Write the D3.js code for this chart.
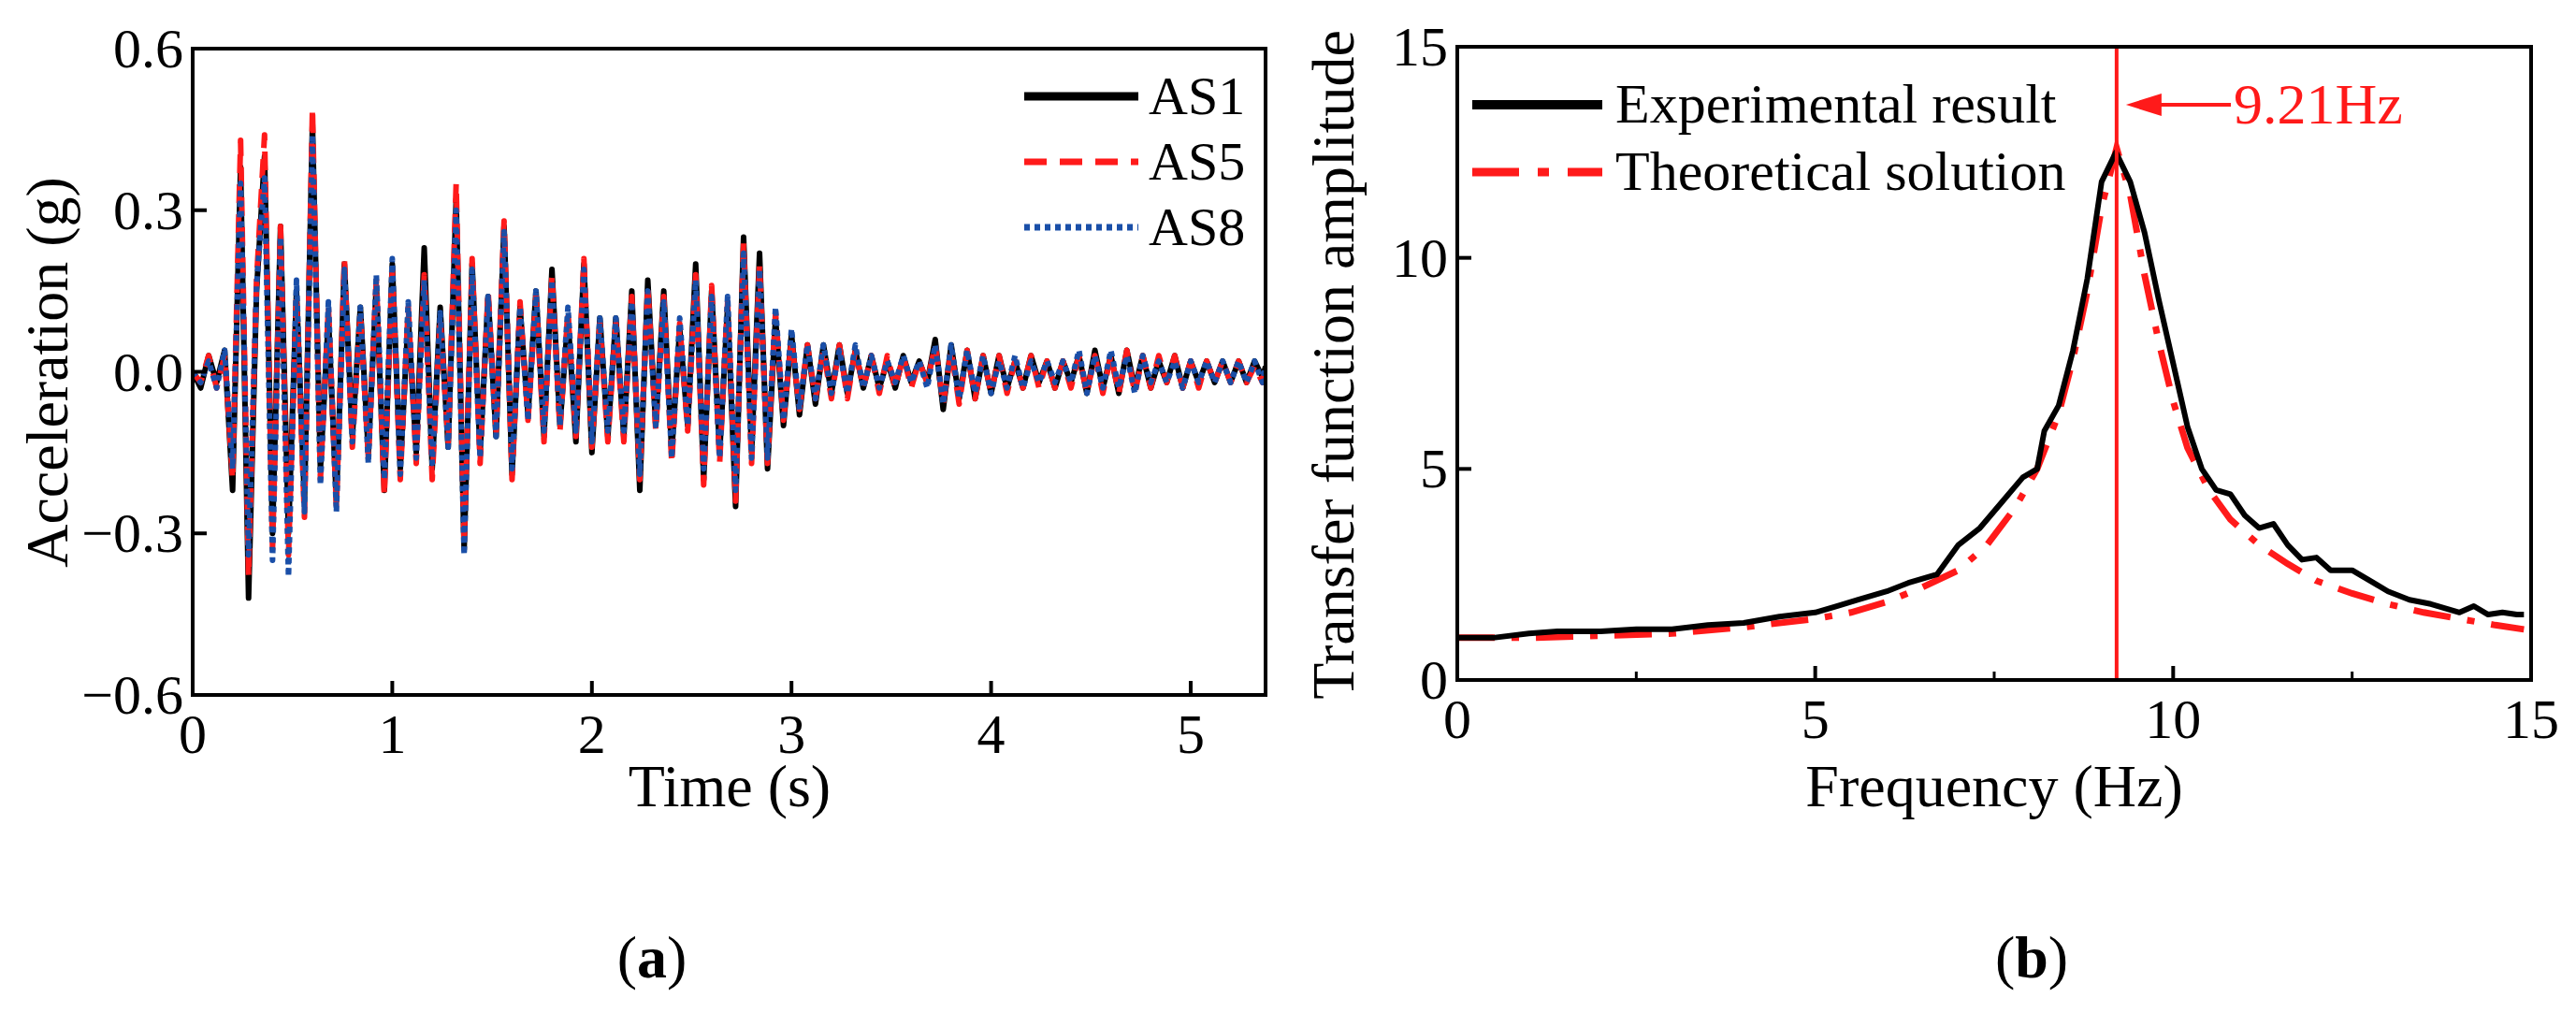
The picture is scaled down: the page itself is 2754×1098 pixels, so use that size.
<!DOCTYPE html>
<html><head><meta charset="utf-8">
<script src="https://cdn.jsdelivr.net/npm/d3@7"></script>
<style>body{margin:0;background:#fff}</style>
</head><body>
<svg id="c" width="2754" height="1098" font-family="Liberation Serif, DejaVu Serif, serif"></svg>
<script>
// ---- Panel (a) data: turning points, time step 0.04 s ----
const timeA = d3.range(0, 135).map(i => +(i*0.04).toFixed(2)).concat([5.375]);
const AS1 = [0,-0.03,0.03,-0.02,0.04,-0.22,0.38,-0.42,0.15,0.40,-0.30,0.27,-0.30,0.15,-0.24,0.46,
 -0.18,0.10,-0.24,0.20,-0.12,0.12,-0.15,0.16,-0.22,0.20,-0.18,0.10,-0.15,0.23,-0.18,0.12,-0.14,0.32,
 -0.33,0.20,-0.15,0.14,-0.12,0.27,-0.19,0.12,-0.08,0.15,-0.12,0.19,-0.10,0.10,-0.13,0.20,-0.15,
 0.10,-0.12,0.10,-0.12,0.15,-0.22,0.17,-0.10,0.15,-0.15,0.08,-0.10,0.20,-0.20,0.15,-0.15,
 0.12,-0.25,0.25,-0.15,0.22,-0.18,0.10,-0.10,0.07,-0.08,0.05,-0.06,0.05,-0.04,0.05,-0.04,
 0.04,-0.03,0.03,-0.03,0.02,-0.03,0.03,-0.02,0.02,-0.02,0.06,-0.07,0.05,-0.05,0.04,-0.05,
 0.03,-0.04,0.03,-0.03,0.02,-0.03,0.03,-0.02,0.02,-0.03,0.02,-0.02,0.03,-0.04,0.04,-0.03,
 0.03,-0.04,0.04,-0.03,0.03,-0.03,0.02,-0.02,0.03,-0.03,0.02,-0.02,0.02,-0.02,0.02,-0.02,
 0.02,-0.02,0.02,-0.01,0.01,-0.01];
const AS5 = [0,-0.02,0.03,-0.03,0.03,-0.20,0.43,-0.38,0.17,0.44,-0.33,0.27,-0.34,0.14,-0.27,0.49,
 -0.20,0.12,-0.25,0.21,-0.14,0.11,-0.16,0.17,-0.23,0.19,-0.20,0.12,-0.17,0.18,-0.20,0.10,-0.13,0.35,
 -0.32,0.21,-0.17,0.15,-0.11,0.28,-0.20,0.13,-0.09,0.14,-0.13,0.18,-0.11,0.11,-0.12,0.21,-0.14,
 0.09,-0.13,0.09,-0.13,0.14,-0.20,0.16,-0.11,0.14,-0.17,0.09,-0.11,0.18,-0.21,0.16,-0.17,
 0.13,-0.24,0.24,-0.17,0.20,-0.17,0.11,-0.09,0.06,-0.07,0.05,-0.05,0.04,-0.05,0.05,-0.05,
 0.04,-0.03,0.03,-0.04,0.03,-0.03,0.03,-0.03,0.02,-0.02,0.05,-0.06,0.04,-0.06,0.04,-0.05,
 0.03,-0.04,0.03,-0.04,0.02,-0.03,0.03,-0.03,0.02,-0.03,0.02,-0.03,0.03,-0.04,0.03,-0.04,
 0.03,-0.04,0.04,-0.04,0.03,-0.03,0.03,-0.02,0.03,-0.03,0.02,-0.03,0.02,-0.02,0.02,-0.02,
 0.02,-0.02,0.01,-0.02,0.01,-0.01];
const AS8 = [0,-0.02,0.02,-0.03,0.04,-0.18,0.35,-0.34,0.16,0.36,-0.35,0.25,-0.38,0.17,-0.26,0.44,
 -0.21,0.13,-0.26,0.19,-0.13,0.12,-0.17,0.18,-0.20,0.21,-0.19,0.13,-0.16,0.17,-0.17,0.11,-0.14,0.30,
 -0.34,0.19,-0.16,0.14,-0.12,0.26,-0.18,0.12,-0.09,0.15,-0.11,0.17,-0.10,0.12,-0.11,0.19,-0.13,
 0.10,-0.11,0.10,-0.11,0.13,-0.19,0.15,-0.10,0.13,-0.16,0.10,-0.10,0.17,-0.18,0.14,-0.16,
 0.14,-0.22,0.22,-0.16,0.19,-0.16,0.12,-0.09,0.08,-0.07,0.05,-0.05,0.05,-0.04,0.04,-0.04,
 0.05,-0.03,0.03,-0.03,0.02,-0.02,0.03,-0.02,0.02,-0.03,0.05,-0.06,0.05,-0.05,0.04,-0.04,
 0.03,-0.04,0.02,-0.03,0.03,-0.03,0.02,-0.02,0.02,-0.02,0.02,-0.02,0.04,-0.04,0.03,-0.03,
 0.04,-0.03,0.03,-0.04,0.03,-0.02,0.02,-0.02,0.02,-0.03,0.02,-0.02,0.02,-0.02,0.02,-0.02,
 0.02,-0.02,0.02,-0.02,0.01,-0.01];
const xTicksA = [0,1,2,3,4,5];
const yTicksA = [-0.6,-0.3,0.0,0.3,0.6];
const seriesA = ["AS1","AS5","AS8"];

// ---- Panel (b) data ----
const freqExp = [0,0.5,1,1.4,2,2.5,3,3.5,4,4.5,5,5.3,5.6,6,6.3,6.7,7,7.3,7.6,7.9,8.1,8.2,8.4,8.6,8.8,9.0,9.2,9.4,9.6,9.8,10,10.2,10.4,10.6,10.8,11,11.2,11.4,11.6,11.8,12,12.2,12.5,12.8,13,13.3,13.6,14,14.2,14.4,14.6,14.8,14.9];
const ampExp = [1.0,1.0,1.1,1.15,1.15,1.2,1.2,1.3,1.35,1.5,1.6,1.75,1.9,2.1,2.3,2.5,3.2,3.6,4.2,4.8,5.0,5.9,6.5,7.8,9.5,11.8,12.5,11.8,10.6,9.0,7.5,6.0,5.0,4.5,4.4,3.9,3.6,3.7,3.2,2.85,2.9,2.6,2.6,2.3,2.1,1.9,1.8,1.6,1.75,1.55,1.6,1.55,1.55];
const freqThe = [0,1,2,3,4,5,5.5,6,6.5,7,7.4,7.8,8.1,8.4,8.6,8.8,9.0,9.21,9.4,9.6,9.8,10,10.2,10.5,10.8,11.2,11.6,12,12.5,13,13.5,14,14.5,14.9];
const ampThe = [1.0,1.0,1.05,1.1,1.25,1.45,1.6,1.85,2.2,2.6,3.2,4.1,5.0,6.3,7.6,9.2,11.2,12.6,11.5,9.6,8.0,6.6,5.5,4.5,3.8,3.2,2.75,2.35,2.05,1.8,1.6,1.45,1.3,1.2];
const xTicksB = [0,5,10,15];
const yTicksB = [0,5,10,15];
const peakFreq = 9.21;
const legendB = ["Experimental result","Theoretical solution"];

const svg = d3.select("#c");
const FS = 60;

function frame(g, x, y, xt, yt, fmtY, minorX){
  const [x0,x1]=x.range(), [y1,y0]=y.range();
  g.append("rect").attr("x",x0).attr("y",y0).attr("width",x1-x0).attr("height",y1-y0)
    .attr("fill","none").attr("stroke","#000").attr("stroke-width",4);
  xt.forEach(v=>{ g.append("line").attr("x1",x(v)).attr("x2",x(v)).attr("y1",y1).attr("y2",y1-15).attr("stroke","#000").attr("stroke-width",4);
    g.append("text").attr("x",x(v)).attr("y",y1+62).attr("text-anchor","middle").attr("font-size",FS).text(v);});
  (minorX||[]).forEach(v=>g.append("line").attr("x1",x(v)).attr("x2",x(v)).attr("y1",y1).attr("y2",y1-9).attr("stroke","#000").attr("stroke-width",3));
  yt.forEach(v=>{ g.append("line").attr("x1",x0).attr("x2",x0+15).attr("y1",y(v)).attr("y2",y(v)).attr("stroke","#000").attr("stroke-width",4);
    g.append("text").attr("x",x0-10).attr("y",y(v)+20).attr("text-anchor","end").attr("font-size",FS).text(fmtY(v));});
}

// Panel (a)
const xa = d3.scaleLinear().domain([0,5.375]).range([206,1353]);
const ya = d3.scaleLinear().domain([-0.6,0.6]).range([743,52]);
const ga = svg.append("g");
const styles = {AS1:{c:"#000",d:null},AS5:{c:"#ff1a1a",d:"20,12"},AS8:{c:"#1a4fa8",d:"6,5"}};
const dataA = {AS1,AS5,AS8};
const lineA = d3.line().x((d,i)=>xa(timeA[i])).y(d=>ya(d));
ga.append("defs").append("clipPath").attr("id","ca").append("rect").attr("x",206).attr("y",52).attr("width",1147).attr("height",691);
seriesA.forEach(s=>ga.append("path").attr("clip-path","url(#ca)").attr("d",lineA(dataA[s])).attr("fill","none")
  .attr("stroke",styles[s].c).attr("stroke-width",6).attr("stroke-dasharray",styles[s].d).attr("stroke-linejoin","round"));
frame(ga,xa,ya,xTicksA,yTicksA,v=>v===0?"0.0":(v<0?"\u2212":"")+Math.abs(v).toFixed(1));
seriesA.forEach((s,i)=>{const yy=103+i*70;
  ga.append("line").attr("x1",1095).attr("x2",1217).attr("y1",yy).attr("y2",yy).attr("stroke",styles[s].c).attr("stroke-width",s==="AS1"?9:7).attr("stroke-dasharray",s==="AS5"?"24,14":(s==="AS8"?"6,5":null));
  ga.append("text").attr("x",1228).attr("y",yy+19).attr("font-size",58).text(s);});
ga.append("text").attr("x",780).attr("y",862).attr("text-anchor","middle").attr("font-size",64).text("Time (s)");
ga.append("text").attr("transform","translate(72,398) rotate(-90)").attr("text-anchor","middle").attr("font-size",64).text("Acceleration (g)");
ga.append("text").attr("x",697).attr("y",1045).attr("text-anchor","middle").attr("font-size",64).html('(<tspan font-weight="bold">a</tspan>)');

// Panel (b)
const xb = d3.scaleLinear().domain([0,15]).range([1558,2706]);
const yb = d3.scaleLinear().domain([0,15]).range([727,50]);
const gb = svg.append("g");
const lineB = d3.line().x(d=>xb(d[0])).y(d=>yb(d[1]));
gb.append("path").attr("d",lineB(freqThe.map((f,i)=>[f,ampThe[i]]))).attr("fill","none").attr("stroke","#ff1a1a").attr("stroke-width",7).attr("stroke-dasharray","40,18,8,18");
gb.append("path").attr("d",lineB(freqExp.map((f,i)=>[f,ampExp[i]]))).attr("fill","none").attr("stroke","#000").attr("stroke-width",6).attr("stroke-linejoin","round");
gb.append("line").attr("x1",xb(peakFreq)).attr("x2",xb(peakFreq)).attr("y1",yb(15)).attr("y2",yb(0)).attr("stroke","#ff1a1a").attr("stroke-width",4);
frame(gb,xb,yb,xTicksB,yTicksB,v=>v,[2.5,7.5,12.5]);
gb.append("line").attr("x1",xb(peakFreq)+30).attr("x2",2385).attr("y1",112).attr("y2",112).attr("stroke","#ff1a1a").attr("stroke-width",4);
gb.append("path").attr("d",`M${xb(peakFreq)+10},112 l38,-12 l0,24 z`).attr("fill","#ff1a1a");
gb.append("text").attr("x",2388).attr("y",132).attr("font-size",62).attr("fill","#ff1a1a").text(peakFreq+"Hz");
legendB.forEach((s,i)=>{const yy=112+i*72;
  gb.append("line").attr("x1",1574).attr("x2",1713).attr("y1",yy).attr("y2",yy).attr("stroke",i?"#ff1a1a":"#000").attr("stroke-width",i?9:10).attr("stroke-dasharray",i?"50,20,12,20":null);
  gb.append("text").attr("x",1727).attr("y",yy+19).attr("font-size",60).text(s);});
gb.append("text").attr("x",2132).attr("y",862).attr("text-anchor","middle").attr("font-size",64).text("Frequency (Hz)");
gb.append("text").attr("transform","translate(1447,390) rotate(-90)").attr("text-anchor","middle").attr("font-size",64).text("Transfer function amplitude");
gb.append("text").attr("x",2172).attr("y",1045).attr("text-anchor","middle").attr("font-size",64).html('(<tspan font-weight="bold">b</tspan>)');
</script></body></html>
